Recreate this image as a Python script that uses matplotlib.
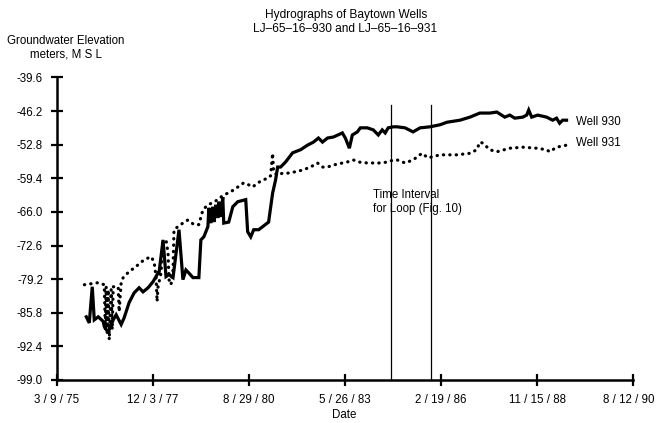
import matplotlib
matplotlib.use("Agg")
import matplotlib.pyplot as plt
from matplotlib.transforms import ScaledTranslation

plt.rcParams['font.family'] = ['Liberation Sans', 'DejaVu Sans']

# x values are days counted from 3/9/75, y values are metres MSL
days_930 = [305, 336, 367, 388, 429, 481, 492, 512, 533, 554, 585, 616, 668, 699, 751, 803,
            855, 896, 948, 1000, 1052, 1062, 1104, 1135, 1166, 1208, 1270, 1311, 1342, 1373,
            1415, 1477, 1498, 1529, 1571, 1581, 1602, 1622, 1633, 1653, 1674, 1685, 1705, 1726,
            1736, 1788, 1830, 1882, 1965, 1985, 2017, 2048, 2100, 2203, 2245, 2276, 2297, 2328,
            2380, 2453, 2536, 2608, 2670, 2722, 2764, 2816, 2878, 2971, 3002, 3044, 3075, 3127,
            3158, 3231, 3293, 3345, 3386, 3417, 3448, 3500, 3541, 3624, 3707, 3780, 3884, 3987,
            4060, 4195, 4299, 4402, 4506, 4579, 4662, 4714, 4766, 4849, 4890, 4911, 4942, 5005,
            5098, 5160, 5201, 5233, 5264, 5305]
elev_930 = [-86.6, -87.8, -80.7, -87.2, -86.6, -87.5, -88.5, -89.1, -89.5, -88.7, -87.2, -86.2,
            -88.1, -86.8, -83.8, -81.9, -80.9, -81.7, -80.9, -79.7, -78.0, -78.0, -71.5, -78.7,
            -78.3, -78.9, -69.5, -79.3, -77.4, -78.0, -78.9, -78.9, -71.5, -70.9, -68.9, -65.2,
            -68.2, -65.0, -68.0, -64.6, -67.2, -64.0, -67.0, -63.1, -68.2, -68.0, -65.0, -64.0,
            -63.6, -69.9, -70.9, -69.5, -69.5, -68.0, -62.3, -59.7, -57.2, -57.2, -56.2, -54.4,
            -53.8, -52.9, -52.3, -51.5, -52.3, -51.5, -51.3, -50.5, -51.5, -53.5, -50.9, -50.3,
            -49.5, -49.5, -49.9, -50.9, -49.9, -50.5, -49.5, -49.3, -49.3, -49.5, -50.3, -49.5,
            -49.3, -48.9, -48.4, -48.0, -47.4, -46.6, -46.6, -46.4, -47.4, -47.0, -47.6, -47.4,
            -47.0, -46.0, -47.4, -47.0, -47.4, -48.0, -47.6, -48.6, -48.0, -48.0]

days_931 = [285, 429, 492, 503, 512, 523, 533, 544, 564, 575, 585, 637, 647, 668, 689, 741,
            844, 907, 979, 1011, 1031, 1042, 1052, 1083, 1104, 1135, 1156, 1166, 1187, 1208,
            1218, 1259, 1290, 1322, 1363, 1394, 1425, 1477, 1519, 1571, 1622, 1674, 1705, 1778,
            1840, 1913, 1944, 1996, 2038, 2090, 2151, 2203, 2224, 2245, 2255, 2297, 2348, 2400,
            2462, 2556, 2639, 2712, 2764, 2816, 2878, 2971, 3023, 3085, 3137, 3231, 3314, 3366,
            3448, 3500, 3541, 3624, 3707, 3800, 3863, 3904, 3987, 4164, 4299, 4371, 4402, 4434,
            4506, 4579, 4714, 4849, 4994, 5098, 5129, 5201, 5305]
elev_931 = [-80.3, -79.9, -80.3, -89.1, -80.7, -90.1, -81.3, -91.1, -81.3, -89.1, -80.7, -80.7,
            -85.6, -79.9, -78.9, -77.9, -76.4, -75.4, -74.8, -75.8, -78.7, -83.6, -80.7, -78.0,
            -71.9, -71.5, -74.0, -79.3, -80.3, -77.4, -69.5, -68.9, -68.5, -68.0, -67.6, -68.0,
            -68.5, -68.5, -65.6, -64.6, -64.2, -63.6, -63.1, -62.3, -61.7, -60.7, -60.3, -60.7,
            -61.1, -60.3, -59.7, -59.3, -58.9, -54.5, -58.2, -58.8, -58.4, -58.4, -58.2, -57.8,
            -57.2, -56.4, -57.2, -57.2, -56.8, -56.4, -56.2, -55.8, -56.2, -56.4, -56.4, -56.4,
            -56.2, -55.8, -55.8, -56.4, -55.8, -54.5, -55.4, -55.2, -54.8, -54.8, -54.5, -53.8,
            -52.3, -52.5, -53.8, -54.2, -53.5, -53.3, -53.5, -53.8, -54.2, -53.3, -52.9]

loop_interval = [3477, 3891]

x_ticks = [0, 1000, 2000, 3000, 4000, 5000, 6000]
x_labels = ['3 / 9 / 75', '12 / 3 / 77', '8 / 29 / 80', '5 / 26 / 83',
            '2 / 19 / 86', '11 / 15 / 88', '8 / 12 / 90']
y_ticks = [-39.6, -46.2, -52.8, -59.4, -66.0, -72.6, -79.2, -85.8, -92.4, -99.0]
y_labels = ['-39.6', '-46.2', '-52.8', '-59.4', '-66.0', '-72.6', '-79.2', '-85.8', '-92.4', '-99.0']

FS = 8.3

fig = plt.figure(figsize=(6.56, 4.23), dpi=100)
ax = fig.add_axes([57 / 656, 0.1017, 576.3 / 656, 0.7153])

ax.plot(days_930, elev_930, color='black', linewidth=2.3, solid_joinstyle='miter')
ax.plot(days_931, elev_931, color='black', linewidth=2.3,
        linestyle=(0, (0.1, 1.9)), dash_capstyle='round')

# time interval lines
for d in loop_interval:
    ax.plot([d, d], [-99.0, -45.0], color='black', linewidth=0.9)

ax.text(3290, -64.1, 'Time Interval\nfor Loop (Fig. 10)', fontsize=FS,
        ha='left', va='center', linespacing=1.25)
ax.text(5400, -48.4, 'Well 930', fontsize=FS, ha='left', va='center')
ax.text(5400, -52.5, 'Well 931', fontsize=FS, ha='left', va='center')

ax.set_xlim(0, 6000)
ax.set_ylim(-99.0, -39.6)
ax.set_xticks(x_ticks)
ax.set_xticklabels(x_labels)
ax.set_yticks(y_ticks)
ax.set_yticklabels(y_labels)

for side in ['top', 'right']:
    ax.spines[side].set_visible(False)
for side in ['left', 'bottom']:
    ax.spines[side].set_linewidth(1.8)
ax.tick_params(direction='inout', length=8, width=1.6, labelsize=FS)
ax.tick_params(axis='x', pad=6)
ax.tick_params(axis='y', pad=6)

# last date label sits against the right edge of the page
last = ax.get_xticklabels()[-1]
last.set_transform(last.get_transform() + ScaledTranslation(-0.05, 0, fig.dpi_scale_trans))

fig.text(344 / 656, 1 - 415 / 423, 'Date', fontsize=FS, ha='center', va='center')

fig.text(346 / 656, 1 - 15 / 423, 'Hydrographs of Baytown Wells', fontsize=8.6,
         ha='center', va='center')
fig.text(345 / 656, 1 - 29 / 423, 'LJ\u201365\u201316\u2013930 and LJ\u201365\u201316\u2013931',
         fontsize=8.6, ha='center', va='center')
fig.text(66 / 656, 1 - 48 / 423, 'Groundwater Elevation\nmeters, M S L', fontsize=FS,
         ha='center', va='center', linespacing=1.15)

fig.savefig('out.png', dpi=100)
